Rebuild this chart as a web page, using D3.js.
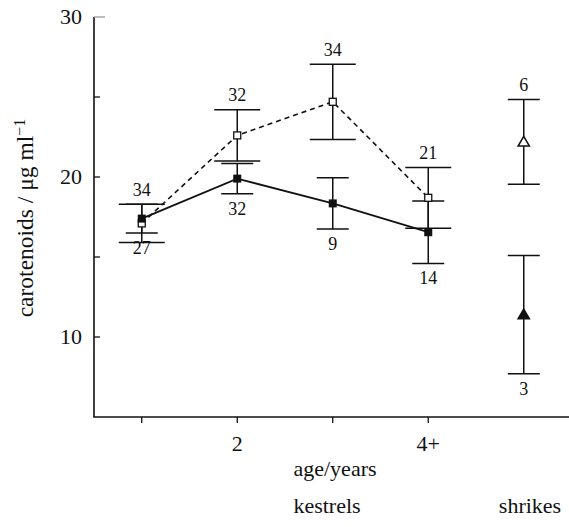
<!DOCTYPE html>
<html>
<head>
<meta charset="utf-8">
<script src="https://cdn.jsdelivr.net/npm/d3@7"></script>
<style>
  body{margin:0;background:#fff}
  text{font-family:"Liberation Serif","DejaVu Serif",serif;fill:#111}
</style>
</head>
<body>
<div id="chart"></div>
<script>
// kestrel age classes 1,2,3,4+ then shrikes at slot 5
const ages = [1, 2, 3, 4]
const ageLabels = ["", "2", "", "4+"]

const openMean = [17.1, 22.6, 24.7, 18.7]
const openErr = [1.2, 1.6, 2.35, 1.9]
const openN = [34, 32, 34, 21]

const fillMean = [17.4, 19.9, 18.35, 16.55]
const fillErr = [0.9, 0.95, 1.6, 1.95]
const fillN = [27, 32, 9, 14]

const shrikeMean = [22.2, 11.4]
const shrikeErr = [2.65, 3.7]
const shrikeN = [6, 3]

const yTicks = [10, 20, 30]
const yMinor = [15, 25]

drawChart("#chart")

function drawChart(id){
    const canvas = createCanvas()
    const svg = d3.select(id).append("svg")
      .attr("width", canvas.width).attr("height", canvas.height)

    const x = d3.scaleLinear().domain([0.5, 5.5]).range([94, 571.5])
    const y = d3.scaleLinear().domain([5, 30]).range([417, 17])

    drawAxes(svg, x, y)

    const open = ages.map((a,i) => ({x:a, v:openMean[i], e:openErr[i], n:openN[i]}))
    const fill = ages.map((a,i) => ({x:a, v:fillMean[i], e:fillErr[i], n:fillN[i]}))
    const shrikes = shrikeMean.map((v,i) => ({x:5, v:v, e:shrikeErr[i], n:shrikeN[i]}))

    // error bars first, marks on top
    drawErrors(svg, open, x, y, 23)
    drawErrors(svg, fill, x, y, 16)
    drawErrors(svg, shrikes, x, y, 16)

    const line = d3.line().x(d => x(d.x)).y(d => y(d.v))
    svg.append("path").datum(open).attr("d", line).attr("fill","none")
      .attr("stroke","#111").attr("stroke-width",1.6).attr("stroke-dasharray","5 4")
    svg.append("path").datum(fill).attr("d", line).attr("fill","none")
      .attr("stroke","#111").attr("stroke-width",1.8)

    svg.selectAll(".sq-open").data(open).enter().append("rect").attr("class","sq-open")
      .attr("x", d => x(d.x)-3.5).attr("y", d => y(d.v)-3.5).attr("width",7).attr("height",7)
      .attr("fill","#fff").attr("stroke","#111").attr("stroke-width",1.3)
    svg.selectAll(".sq-fill").data(fill).enter().append("rect").attr("class","sq-fill")
      .attr("x", d => x(d.x)-4).attr("y", d => y(d.v)-4).attr("width",8).attr("height",8)
      .attr("fill","#111")

    const tri = d3.symbol().type(d3.symbolTriangle).size(55)
    svg.selectAll(".tri").data(shrikes).enter().append("path").attr("class","tri")
      .attr("d", tri).attr("transform", d => `translate(${x(d.x)},${y(d.v)+1})`)
      .attr("fill", (d,i) => i === 0 ? "#fff" : "#111")
      .attr("stroke","#111").attr("stroke-width",1.5)

    // sample sizes: upper series above top cap, lower below bottom cap
    const above = open.concat([shrikes[0]])
    const below = fill.concat([shrikes[1]])
    svg.selectAll(".n-up").data(above).enter().append("text")
      .attr("x", d => x(d.x)).attr("y", d => y(d.v+d.e)-8.5)
      .attr("text-anchor","middle").attr("font-size","18px").text(d => d.n)
    svg.selectAll(".n-dn").data(below).enter().append("text")
      .attr("x", d => x(d.x)).attr("y", d => y(d.v-d.e)+21)
      .attr("text-anchor","middle").attr("font-size","18px").text(d => d.n)
}

function createCanvas(){
    return {width:569, height:527}
}

function drawAxes(svg, x, y){
    svg.append("line").attr("x1",94).attr("x2",94).attr("y1",y(30)).attr("y2",y(5))
      .attr("stroke","#111").attr("stroke-width",1.6)
    svg.append("line").attr("x1",93.2).attr("x2",569).attr("y1",y(5)).attr("y2",y(5))
      .attr("stroke","#111").attr("stroke-width",1.6)

    svg.selectAll(".ytick").data(yTicks.concat(yMinor)).enter().append("line")
      .attr("x1",94).attr("x2",d => d === 30 ? 105 : 100).attr("y1",d => y(d)).attr("y2",d => y(d))
      .attr("stroke",d => d === 30 ? "#999" : "#111").attr("stroke-width",1.3)
    svg.selectAll(".ylab").data(yTicks).enter().append("text")
      .attr("x",82).attr("y",d => y(d)+7).attr("text-anchor","end")
      .attr("font-size","22px").text(d => d)

    svg.selectAll(".xtick").data(ages).enter().append("line")
      .attr("x1",d => x(d)).attr("x2",d => x(d)).attr("y1",y(5)).attr("y2",y(5)+6)
      .attr("stroke","#111").attr("stroke-width",1.3)
    svg.selectAll(".xlab").data(ages).enter().append("text")
      .attr("x",d => x(d)).attr("y",451).attr("text-anchor","middle")
      .attr("font-size","22px").text((d,i) => ageLabels[i])

    svg.append("text").attr("x",335).attr("y",476).attr("text-anchor","middle")
      .attr("font-size","22px").text("age/years")
    svg.append("text").attr("x",327).attr("y",513).attr("text-anchor","middle")
      .attr("font-size","22px").text("kestrels")
    svg.append("text").attr("x",530).attr("y",513).attr("text-anchor","middle")
      .attr("font-size","22px").text("shrikes")

    const yl = svg.append("text").attr("transform","translate(33,218) rotate(-90)")
      .attr("text-anchor","middle").attr("font-size","23.5px")
    yl.append("tspan").text("carotenoids / μg ml")
    yl.append("tspan").attr("dy",-8).attr("font-size","16px").text("−1")
}

function drawErrors(svg, data, x, y, half){
    const g = svg.append("g")
    g.selectAll(".stem").data(data).enter().append("line")
      .attr("x1",d => x(d.x)).attr("x2",d => x(d.x))
      .attr("y1",d => y(d.v+d.e)).attr("y2",d => y(d.v-d.e))
      .attr("stroke","#111").attr("stroke-width",1.5)
    g.selectAll(".cap-t").data(data).enter().append("line")
      .attr("x1",d => x(d.x)-half).attr("x2",d => x(d.x)+half)
      .attr("y1",d => y(d.v+d.e)).attr("y2",d => y(d.v+d.e))
      .attr("stroke","#111").attr("stroke-width",1.5)
    g.selectAll(".cap-b").data(data).enter().append("line")
      .attr("x1",d => x(d.x)-half).attr("x2",d => x(d.x)+half)
      .attr("y1",d => y(d.v-d.e)).attr("y2",d => y(d.v-d.e))
      .attr("stroke","#111").attr("stroke-width",1.5)
}
</script>
</body>
</html>
